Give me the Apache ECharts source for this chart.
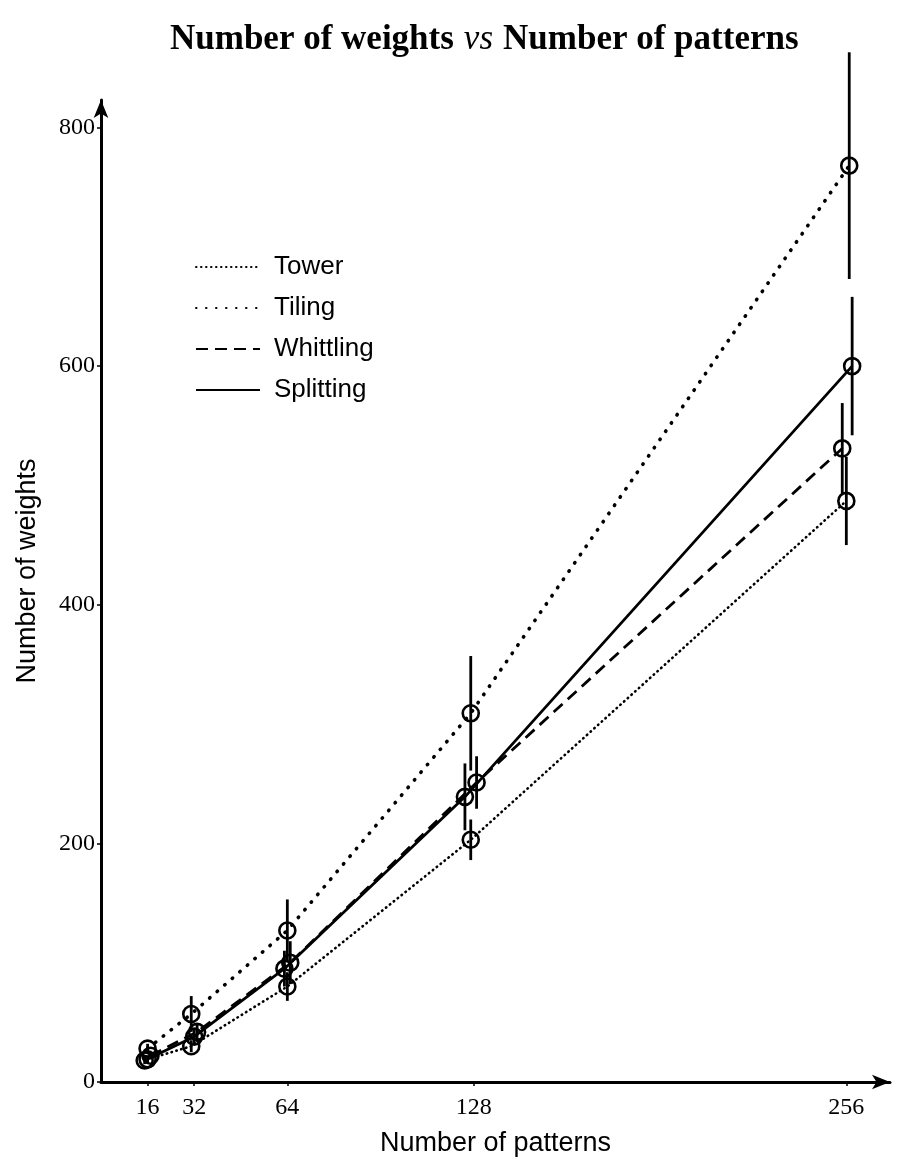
<!DOCTYPE html>
<html>
<head>
<meta charset="utf-8">
<script src="https://cdn.jsdelivr.net/npm/echarts@6/dist/echarts.min.js"></script>
<style>
  html, body { margin: 0; padding: 0; background: #fff; }
  #chart { width: 901px; height: 1164px; }
</style>
</head>
<body>
<div id="chart"></div>
<script>
// Pattern counts shown on the x axis and weight ticks on the y axis
const xTicks = [16, 32, 64, 128, 256];
const yTicks = [0, 200, 400, 600, 800];
const methodNames = ['Tower', 'Tiling', 'Whittling', 'Splitting'];

// Each method is nudged a little around the pattern count so the markers stay apart
const towerX = [16, 31, 64, 127, 256];
const towerY = [19, 30, 80, 203, 487];
const towerErr = [3, 5, 12, 17, 37];

const tilingX = [16, 31, 64, 127, 257];
const tilingY = [28, 57, 127, 309, 768];
const tilingErr = [4, 15, 26, 48, 95];

const whittlingX = [17, 33, 65, 129, 254.6];
const whittlingY = [22, 42, 100, 251, 531];
const whittlingErr = [3, 7, 18, 22, 38];

const splittingX = [15, 32, 63, 125, 258];
const splittingY = [18, 38, 95, 239, 600];
const splittingErr = [3, 6, 15, 28, 58];

const methods = [
  { x: towerX,     y: towerY,     err: towerErr,     line: { type: [0.5, 4.5], width: 2.6, cap: 'round' } },
  { x: tilingX,    y: tilingY,    err: tilingErr,    line: { type: [0.5, 9.5], width: 3.6, cap: 'round' } },
  { x: whittlingX, y: whittlingY, err: whittlingErr, line: { type: [12, 7], width: 2.8, cap: 'butt' } },
  { x: splittingX, y: splittingY, err: splittingErr, line: { type: 'solid', width: 2.8, cap: 'butt' } }
];

// Vertical range bar through each marker
function renderBar(params, api) {
  const x = api.value(0);
  const p1 = api.coord([x, api.value(1)]);
  const p2 = api.coord([x, api.value(2)]);
  return {
    type: 'line',
    shape: { x1: p1[0], y1: p1[1], x2: p2[0], y2: p2[1] },
    style: { stroke: '#000', lineWidth: 2.8 }
  };
}

const series = [];
methods.forEach(function (m, k) {
  series.push({
    type: 'custom',
    name: methodNames[k] + ' range',
    renderItem: renderBar,
    encode: { x: 0, y: [1, 2] },
    data: m.x.map(function (xv, i) { return [xv, m.y[i] - m.err[i], m.y[i] + m.err[i]]; }),
    clip: false,
    z: 2,
    silent: true
  });
});
methods.forEach(function (m, k) {
  series.push({
    type: 'line',
    name: methodNames[k],
    data: m.x.map(function (xv, i) { return [xv, m.y[i]]; }),
    symbol: 'circle',
    symbolSize: 16,
    showAllSymbol: true,
    lineStyle: { color: '#000', width: m.line.width, type: m.line.type, cap: m.line.cap },
    itemStyle: { color: 'rgba(0,0,0,0)', borderColor: '#000', borderWidth: 2.6 },
    z: 3
  });
});

const serif = '"Liberation Serif", "DejaVu Serif", serif';
const sans = '"Liberation Sans", Arial, sans-serif';

const chart = echarts.init(document.getElementById('chart'), null, { renderer: 'canvas' });
chart.setOption({
  animation: false,
  backgroundColor: '#fff',
  title: {
    text: '{a|Number of weights}  {b|vs}  {a|Number of patterns}',
    left: 165,
    top: 17,
    textStyle: {
      rich: {
        a: { fontFamily: serif, fontWeight: 'bold', fontSize: 35, color: '#000' },
        b: { fontFamily: serif, fontStyle: 'italic', fontWeight: 'normal', fontSize: 35, color: '#000' }
      }
    }
  },
  legend: {
    data: methodNames,
    orient: 'vertical',
    left: 190,
    top: 249,
    itemWidth: 64,
    itemHeight: 14,
    itemGap: 15,
    itemStyle: { opacity: 0 },
    textStyle: { fontFamily: sans, fontSize: 26, lineHeight: 26, color: '#000', padding: [0, 0, 0, 9] },
    selectedMode: false
  },
  grid: { left: 101, right: 11, top: 100, bottom: 82 },
  xAxis: {
    type: 'value',
    min: 0,
    max: 271,
    name: 'Number of patterns',
    nameLocation: 'middle',
    nameGap: 48,
    nameTextStyle: { fontFamily: sans, fontSize: 27, color: '#000' },
    axisLine: { show: true, lineStyle: { color: '#000', width: 3 }, symbol: ['none', 'arrow'], symbolSize: [11, 18] },
    axisTick: { show: true, customValues: xTicks, length: 4, lineStyle: { color: '#000', width: 1.5 } },
    axisLabel: { customValues: xTicks, fontFamily: serif, fontSize: 24, color: '#000', margin: 14 },
    splitLine: { show: false }
  },
  yAxis: {
    type: 'value',
    min: 0,
    max: 823,
    name: 'Number of weights',
    nameLocation: 'middle',
    nameGap: 60,
    nameRotate: 90,
    nameTextStyle: { fontFamily: sans, fontSize: 27, color: '#000', padding: [0, 0, 0, 40] },
    axisLine: { show: true, lineStyle: { color: '#000', width: 3 }, symbol: ['none', 'arrow'], symbolSize: [11, 18] },
    axisTick: { show: true, customValues: yTicks, length: 4, lineStyle: { color: '#000', width: 1.5 } },
    axisLabel: { customValues: yTicks, fontFamily: serif, fontSize: 24, color: '#000', margin: 6 },
    splitLine: { show: false }
  },
  series: series
});
</script>
</body>
</html>
